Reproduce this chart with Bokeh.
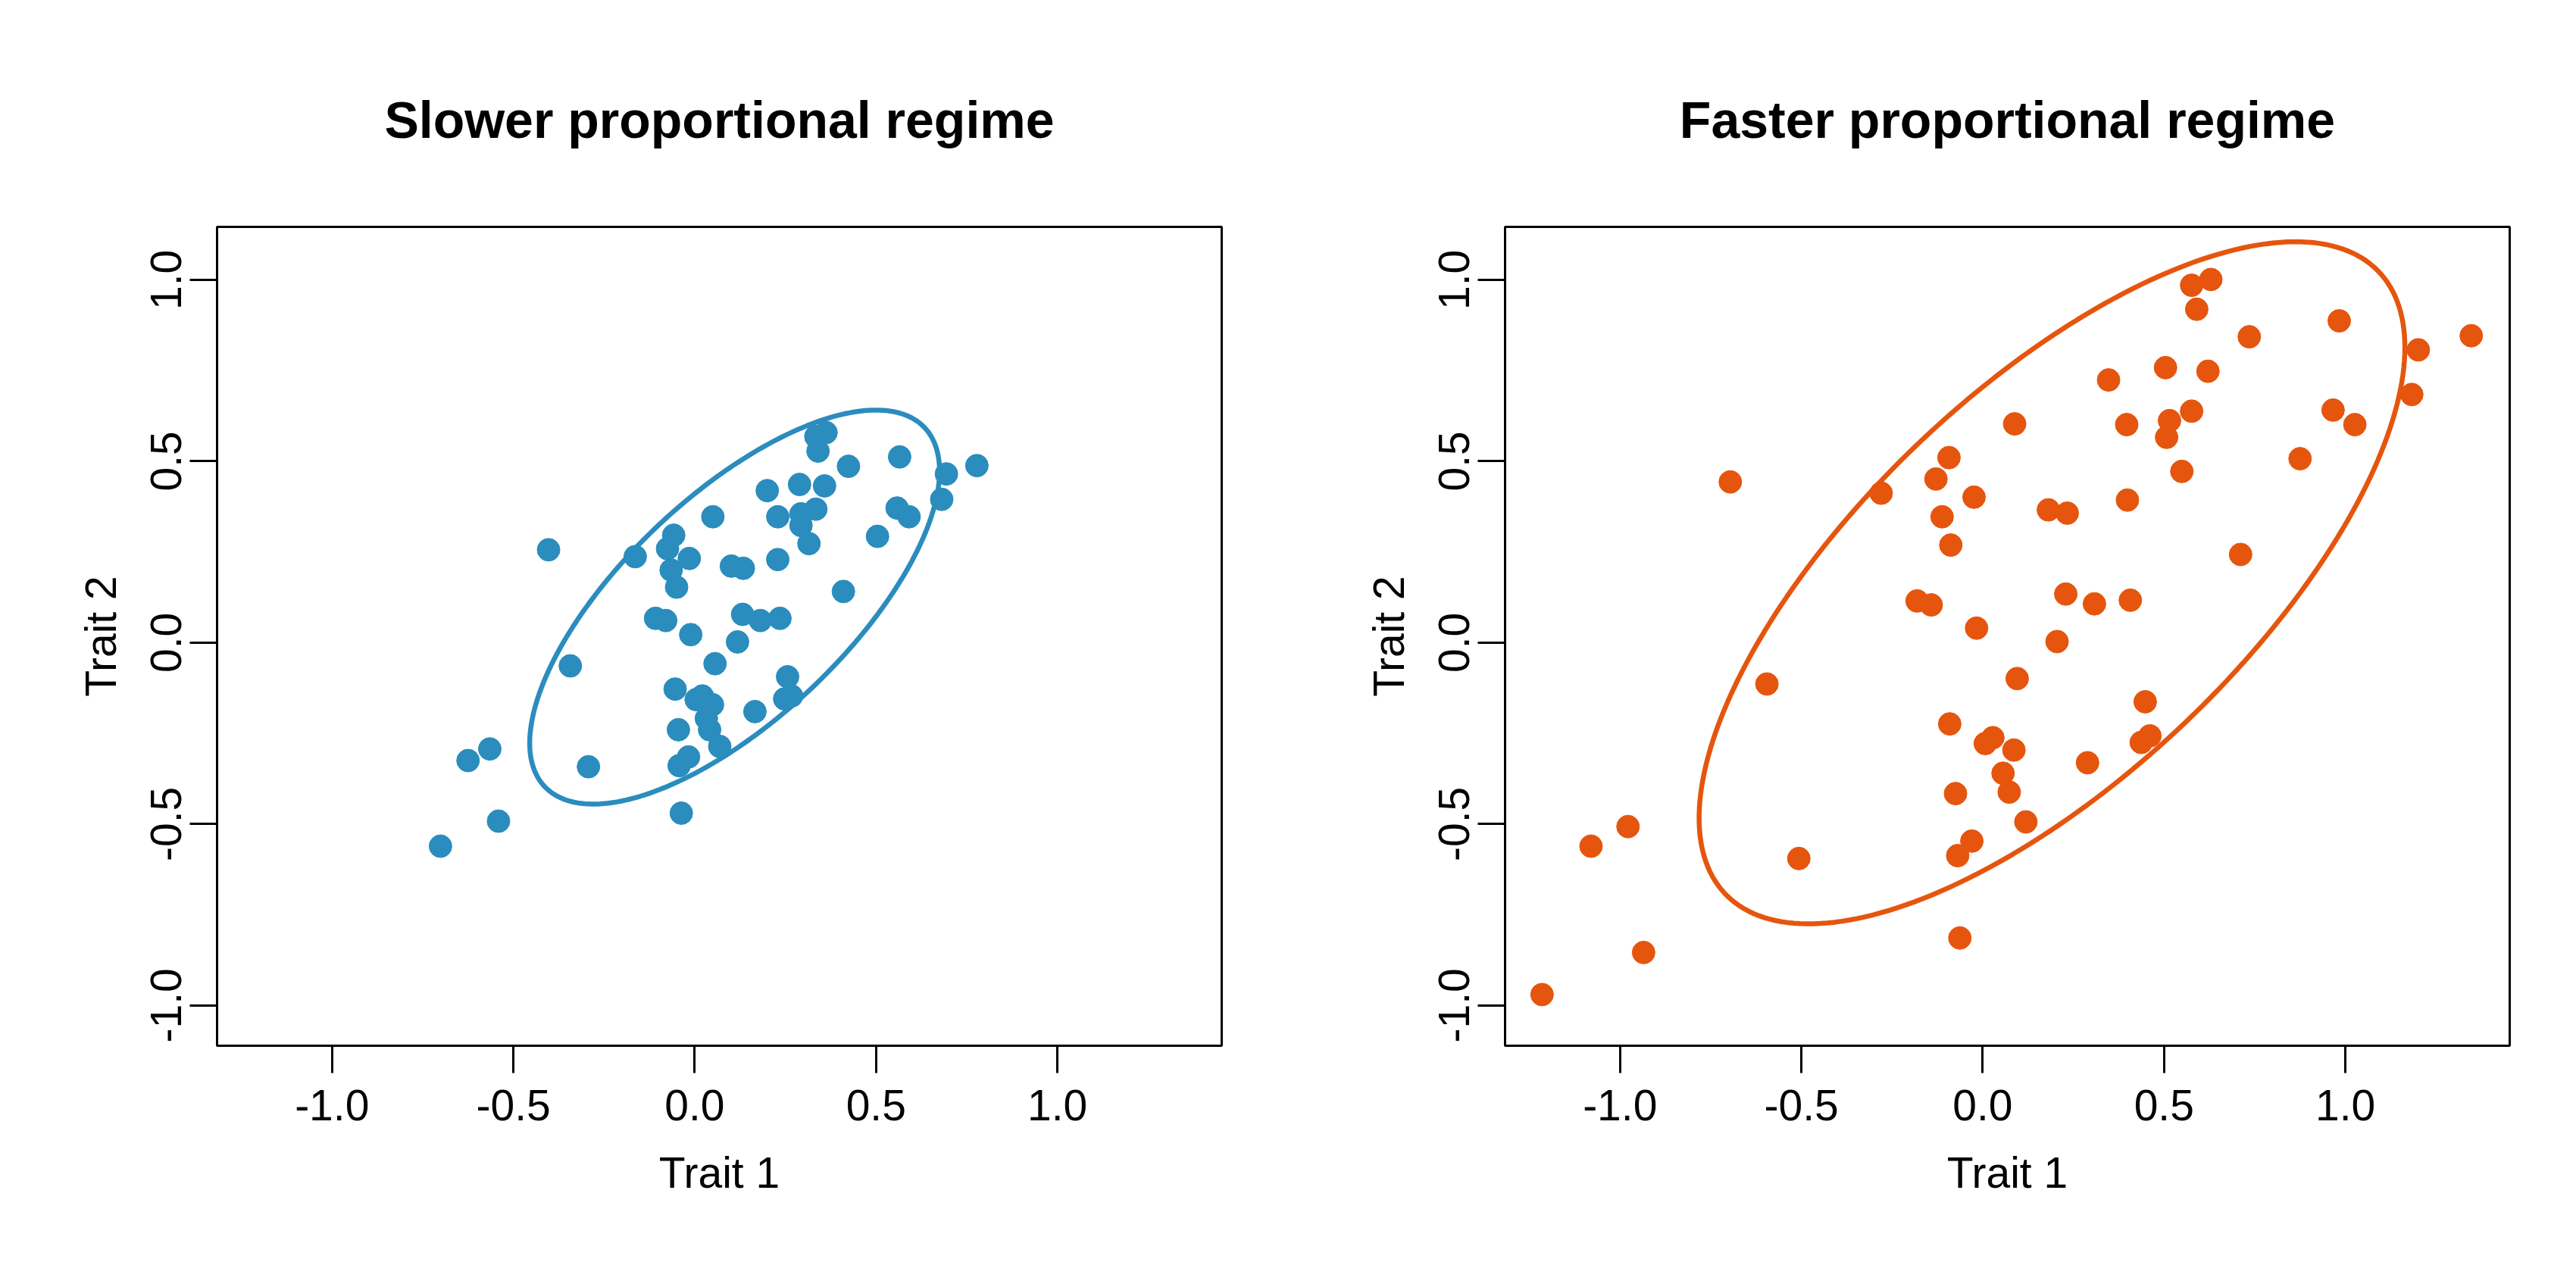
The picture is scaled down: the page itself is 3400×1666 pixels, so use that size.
import numpy as np
from bokeh.plotting import figure
from bokeh.layouts import row
from bokeh.models import PrintfTickFormatter, FixedTicker, Range1d
from bokeh.embed import file_html
from bokeh.resources import INLINE

# slower proportional regime (blue)
slow_x = [-0.403, -0.164, -0.058, -0.075, -0.015, -0.065, -0.050, 0.050, 0.200, 0.289,
          0.358, 0.424, 0.340, 0.334, 0.362, 0.565, 0.694, 0.778, 0.681, 0.558,
          0.591, 0.504, 0.229, 0.293, 0.334, 0.293, 0.315, 0.229, 0.101, 0.134,
          0.410, -0.108, -0.080, 0.132, 0.181, 0.235, -0.011, 0.118, -0.343, 0.056,
          -0.054, 0.256, 0.248, 0.267, 0.004, 0.021, 0.049, 0.166, 0.032, -0.045,
          0.041, 0.069, -0.565, -0.625, -0.293, -0.017, -0.043, -0.541, -0.037, -0.701]
slow_y = [0.256, 0.237, 0.296, 0.259, 0.232, 0.200, 0.153, 0.347, 0.419, 0.436,
          0.432, 0.486, 0.528, 0.568, 0.579, 0.512, 0.465, 0.488, 0.395, 0.371,
          0.347, 0.293, 0.347, 0.355, 0.368, 0.323, 0.273, 0.229, 0.211, 0.205,
          0.141, 0.067, 0.061, 0.078, 0.061, 0.067, 0.022, 0.002, -0.064, -0.058,
          -0.128, -0.094, -0.155, -0.147, -0.157, -0.147, -0.171, -0.190, -0.209, -0.240,
          -0.240, -0.286, -0.293, -0.325, -0.342, -0.315, -0.339, -0.492, -0.470, -0.561]

# faster proportional regime (orange)
fast_x = [-1.215, -1.080, -0.978, -0.935, -0.507, -0.696, -0.595, -0.280, -0.093, -0.129,
          -0.024, -0.112, -0.088, 0.088, -0.181, -0.142, -0.017, 0.181, 0.233, 0.229,
          0.308, 0.407, 0.205, 0.095, -0.091, 0.007, 0.028, 0.086, 0.056, 0.073,
          -0.075, 0.119, -0.030, -0.069, -0.063, 0.289, 0.448, 0.437, 0.461, 0.347,
          0.397, 0.399, 0.504, 0.621, 0.515, 0.507, 0.576, 0.549, 0.576, 0.629,
          0.590, 0.735, 0.711, 0.983, 0.966, 1.026, 0.875, 1.201, 1.183, 1.347]
fast_y = [-0.970, -0.561, -0.507, -0.854, -0.595, 0.443, -0.114, 0.412, 0.510, 0.451,
          0.401, 0.347, 0.269, 0.603, 0.115, 0.104, 0.040, 0.366, 0.357, 0.134,
          0.107, 0.117, 0.003, -0.099, -0.224, -0.278, -0.262, -0.296, -0.360, -0.412,
          -0.416, -0.494, -0.547, -0.587, -0.814, -0.331, -0.163, -0.275, -0.257, 0.724,
          0.601, 0.393, 0.758, 0.748, 0.612, 0.566, 0.638, 0.472, 0.985, 1.001,
          0.919, 0.843, 0.243, 0.887, 0.641, 0.601, 0.507, 0.807, 0.684, 0.846]

# ellipse summaries: centre, half extent along each trait, correlation
slow_center = (0.110, 0.098)
slow_extent = (0.565, 0.543)
fast_center = (0.191, 0.165)
fast_extent = (0.973, 0.940)
ellipse_r = 0.69

ticks = [-1.0, -0.5, 0.0, 0.5, 1.0]
FONT = "Liberation Sans"


def ellipse_path(center, extent, r, n=240):
    t = np.linspace(0, 2 * np.pi, n)
    d = np.arccos(r)
    return center[0] + extent[0] * np.cos(t), center[1] + extent[1] * np.cos(t - d)


def panel(title, xs, ys, center, extent, color, width, left, right):
    p = figure(width=width, height=1658, output_backend="svg", toolbar_location=None,
               x_range=Range1d(-1.317, 1.453), y_range=Range1d(-1.111, 1.146),
               min_border_left=left, min_border_right=right,
               min_border_top=299, min_border_bottom=278,
               title=title, x_axis_label="Trait 1", y_axis_label="Trait 2")
    p.title.align = "center"
    p.title.text_font = FONT
    p.title.text_font_size = "68px"
    p.title.text_font_style = "bold"
    p.title.text_color = "black"
    p.title.standoff = 207
    p.grid.visible = False
    p.outline_line_color = "black"
    p.outline_line_width = 3
    p.outline_line_alpha = 1
    for ax in (p.xaxis[0], p.yaxis[0]):
        ax.ticker = FixedTicker(ticks=ticks)
        ax.formatter = PrintfTickFormatter(format="%.1f")
        ax.minor_tick_line_color = None
        ax.major_tick_in = 0
        ax.major_tick_out = 36
        ax.major_tick_line_width = 3
        ax.axis_line_width = 3
        ax.major_label_text_font = FONT
        ax.major_label_text_font_size = "57px"
        ax.major_label_text_color = "black"
        ax.axis_label_text_font = FONT
        ax.axis_label_text_font_size = "57px"
        ax.axis_label_text_font_style = "normal"
        ax.axis_label_text_color = "black"
    p.xaxis.major_label_standoff = 22
    p.xaxis.axis_label_standoff = 34
    p.yaxis.major_label_orientation = "vertical"
    p.yaxis.major_label_standoff = 11
    p.yaxis.axis_label_standoff = 32
    ex, ey = ellipse_path(center, extent, ellipse_r)
    p.line(ex, ey, line_color=color, line_width=6.5)
    p.scatter(xs, ys, size=30, fill_color=color, line_color=color)
    return p


p1 = panel("Slower proportional regime", slow_x, slow_y, slow_center, slow_extent,
           "#2B8CBE", 1700, 286, 88)
p2 = panel("Faster proportional regime", fast_x, fast_y, fast_center, fast_extent,
           "#E6550D", 1692, 286, 80)

layout = row(p1, p2)
open("out.html", "w").write(file_html(layout, INLINE))
